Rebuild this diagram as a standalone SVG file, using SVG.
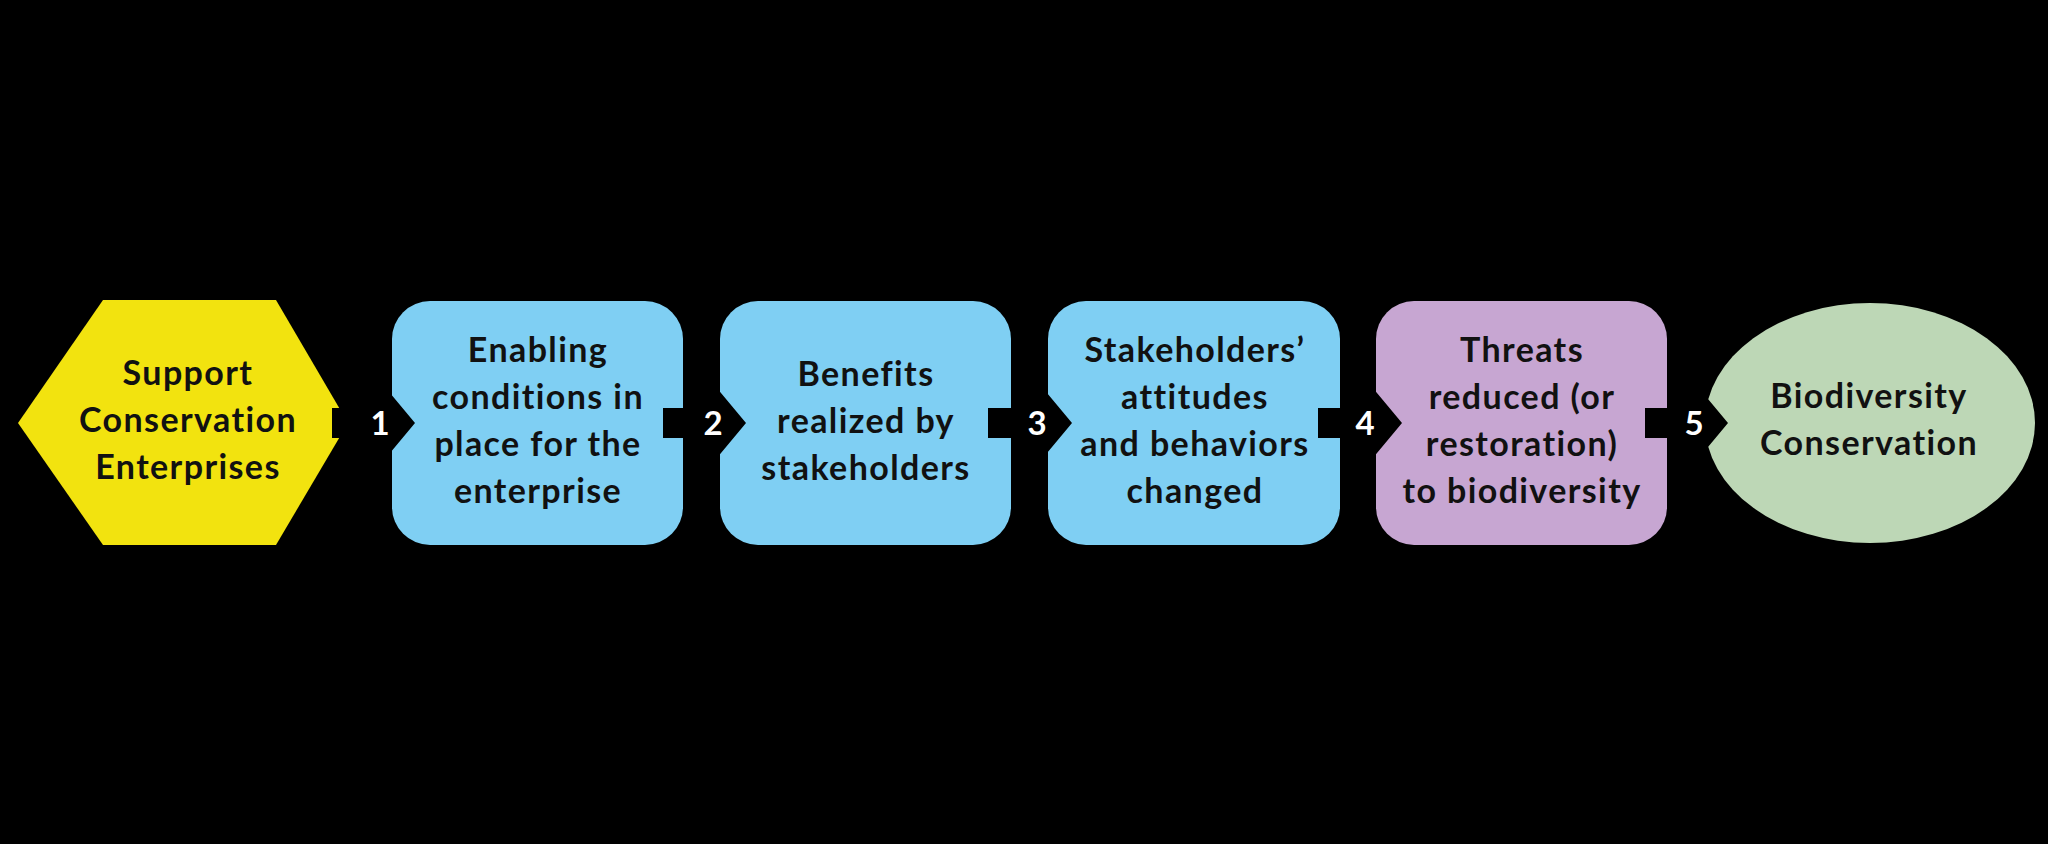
<svg xmlns="http://www.w3.org/2000/svg" width="2048" height="844" viewBox="0 0 2048 844">
<style>
.t{font-family:Lato,"Open Sans","Liberation Sans",sans-serif;font-weight:700;font-size:34px;letter-spacing:1.4px;fill:#111;text-anchor:middle}
.n{font-family:Lato,"Open Sans","Liberation Sans",sans-serif;font-weight:700;font-size:33px;fill:#fff;text-anchor:middle}
.blue{fill:#7FCFF3}
.arr{fill:#000}
</style>
<rect width="2048" height="844" fill="#000"/>
<g id="node-support">
<polygon points="103,300 276,300 348,423 276,545 103,545 18,423" fill="#F2E30F"/>
<text class="t" x="188" y="385">Support</text>
<text class="t" x="188" y="432">Conservation</text>
<text class="t" x="188" y="479">Enterprises</text>
</g>
<g id="node-enabling">
<rect class="blue" x="392" y="301" width="291" height="244" rx="38"/>
<text class="t" x="538" y="362">Enabling</text>
<text class="t" x="538" y="409">conditions in</text>
<text class="t" x="538" y="456">place for the</text>
<text class="t" x="538" y="503">enterprise</text>
</g>
<g id="node-benefits">
<rect class="blue" x="720" y="301" width="291" height="244" rx="38"/>
<text class="t" x="866" y="386">Benefits</text>
<text class="t" x="866" y="433">realized by</text>
<text class="t" x="866" y="480">stakeholders</text>
</g>
<g id="node-attitudes">
<rect class="blue" x="1048" y="301" width="292" height="244" rx="38"/>
<text class="t" x="1195" y="362">Stakeholders’</text>
<text class="t" x="1195" y="409">attitudes</text>
<text class="t" x="1195" y="456">and behaviors</text>
<text class="t" x="1195" y="503">changed</text>
</g>
<g id="node-threats">
<rect x="1376" y="301" width="291" height="244" rx="38" fill="#C7A6D2"/>
<text class="t" x="1522" y="362">Threats</text>
<text class="t" x="1522" y="409">reduced (or</text>
<text class="t" x="1522" y="456">restoration)</text>
<text class="t" x="1522" y="503">to biodiversity</text>
</g>
<g id="node-biodiversity">
<ellipse cx="1870" cy="423" rx="165" ry="120" fill="#BDD7B6"/>
<text class="t" x="1869" y="408">Biodiversity</text>
<text class="t" x="1869" y="455">Conservation</text>
</g>
<g id="connectors">
<polygon class="arr" points="332,408 375,408 375,375 415,423 375,471 375,438 332,438"/>
<polygon class="arr" points="663,408 706,408 706,375 746,423 706,471 706,438 663,438"/>
<polygon class="arr" points="988,408 1032,408 1032,375 1072,423 1032,471 1032,438 988,438"/>
<polygon class="arr" points="1318,408 1362,408 1362,375 1402,423 1362,471 1362,438 1318,438"/>
<polygon class="arr" points="1645,408 1688,408 1688,375 1728,423 1688,471 1688,438 1645,438"/>
<text class="n" x="380" y="435">1</text>
<text class="n" x="713" y="435">2</text>
<text class="n" x="1037" y="435">3</text>
<text class="n" x="1365" y="435">4</text>
<text class="n" x="1694" y="435">5</text>
</g>
</svg>
